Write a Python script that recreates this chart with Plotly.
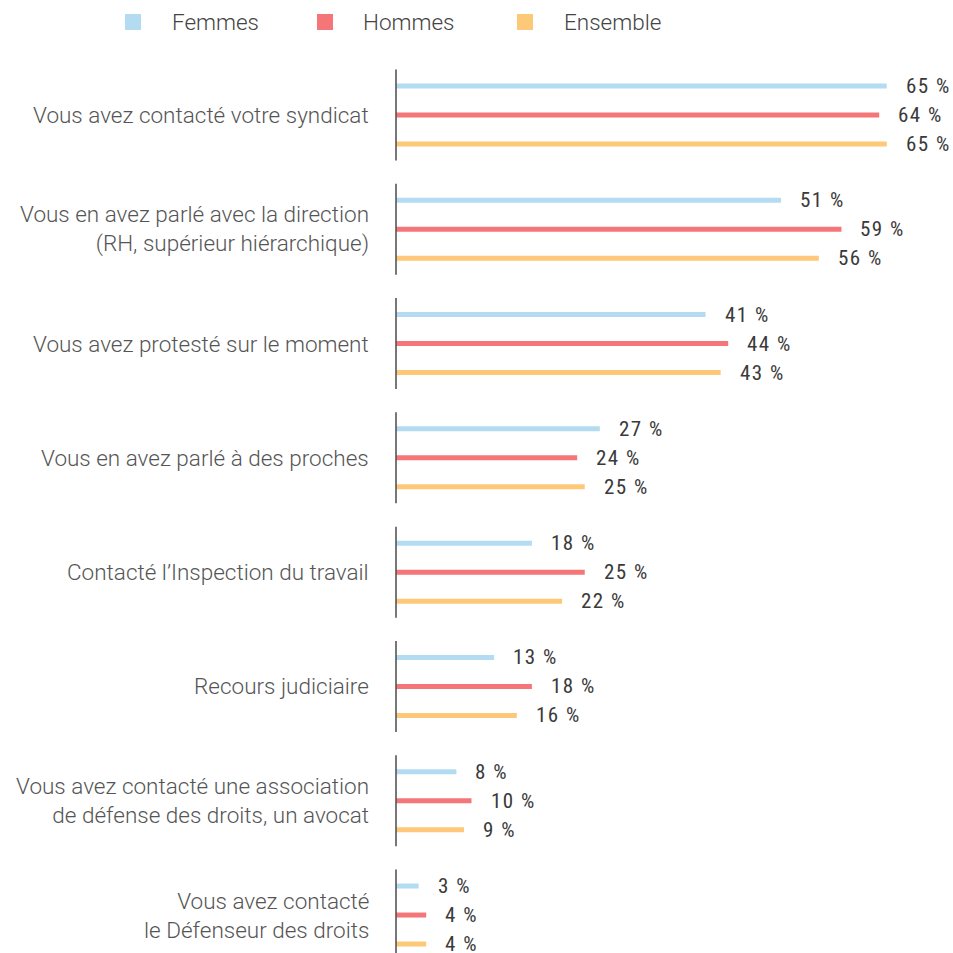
import plotly.graph_objects as go

categories = [
    "Vous avez contacté votre syndicat",
    "Vous en avez parlé avec la direction<br>(RH, supérieur hiérarchique)",
    "Vous avez protesté sur le moment",
    "Vous en avez parlé à des proches",
    "Contacté l’Inspection du travail",
    "Recours judiciaire",
    "Vous avez contacté une association<br>de défense des droits, un avocat",
    "Vous avez contacté<br>le Défenseur des droits",
]
series_names = ["Femmes", "Hommes", "Ensemble"]
femmes = [65, 51, 41, 27, 18, 13, 8, 3]
hommes = [64, 59, 44, 24, 25, 18, 10, 4]
ensemble = [65, 56, 43, 25, 22, 16, 9, 4]
series_values = [femmes, hommes, ensemble]
colors = ["#B3DCF3", "#F47678", "#FDC878"]

W = H = 953
L, R, T, B = 388, 0, 60, 0
PW, PH = W - L - R, H - T - B
PX_PER_PCT = 7.55
x_min = -(396 - L) / PX_PER_PCT
x_max = x_min + PW / PX_PER_PCT
GROUP_PX = 114.29
y_top = (T - 115) / GROUP_PX
y_bot = y_top + PH / GROUP_PX
offsets = [-29 / GROUP_PX, 0, 29 / GROUP_PX]

VAL_FONT = "Roboto Condensed, Liberation Sans Narrow, DejaVu Sans Condensed, Roboto"


def px_x(p):
    return (p - L) / PW


def px_y(p):
    return (H - B - p) / PH


fig = go.Figure()
annotations = []
shapes = []
for s, (name, vals, col) in enumerate(zip(series_names, series_values, colors)):
    ys = [i + offsets[s] for i in range(len(categories))]
    fig.add_trace(go.Bar(
        x=vals, y=ys, orientation="h", width=5 / GROUP_PX,
        marker=dict(color=col, line=dict(width=0)), name=name,
        showlegend=False, hoverinfo="x",
    ))
    for v, y in zip(vals, ys):
        annotations.append(dict(
            x=v, y=y, xref="x", yref="y",
            text=f"<span style='letter-spacing:1.5px'>{v} %</span>",
            showarrow=False, xanchor="left", yanchor="middle", xshift=17,
            font=dict(family=VAL_FONT, size=21, color="#3a3a3a"),
        ))

for i, cat in enumerate(categories):
    annotations.append(dict(
        x=px_x(371), y=i, xref="paper", yref="y", text=cat, showarrow=False,
        xanchor="right", yanchor="middle", align="right",
        font=dict(family="Roboto", size=22.5, color="#555555", weight=300),
    ))
    shapes.append(dict(
        type="line", xref="x", yref="y", x0=0, x1=0,
        y0=i - 45.5 / GROUP_PX, y1=i + 45.5 / GROUP_PX,
        line=dict(color="#555555", width=1.6),
    ))

# legend
leg_sq = [133, 325, 525]
leg_tx = [170, 361, 562]
for name, col, sq, tx in zip(series_names, colors, leg_sq, leg_tx):
    shapes.append(dict(
        type="rect", xref="paper", yref="paper",
        x0=px_x(sq - 8), x1=px_x(sq + 8), y0=px_y(30), y1=px_y(14),
        fillcolor=col, line=dict(width=0),
    ))
    annotations.append(dict(
        x=px_x(tx), y=px_y(22), xref="paper", yref="paper", text=name,
        showarrow=False, xanchor="left", yanchor="middle",
        font=dict(family="Roboto", size=22.5, color="#444444", weight=300),
    ))

fig.update_layout(
    width=W, height=H,
    margin=dict(l=L, r=R, t=T, b=B, pad=0),
    paper_bgcolor="white", plot_bgcolor="white",
    barmode="overlay", showlegend=False,
    xaxis=dict(range=[x_min, x_max], visible=False, fixedrange=True),
    yaxis=dict(range=[y_bot, y_top], visible=False, fixedrange=True),
    annotations=annotations, shapes=shapes,
)

fig.write_html(
    "out.html",
    config={"displayModeBar": False},
    post_script="document.body.style.margin='0';document.body.style.overflow='hidden';",
)
